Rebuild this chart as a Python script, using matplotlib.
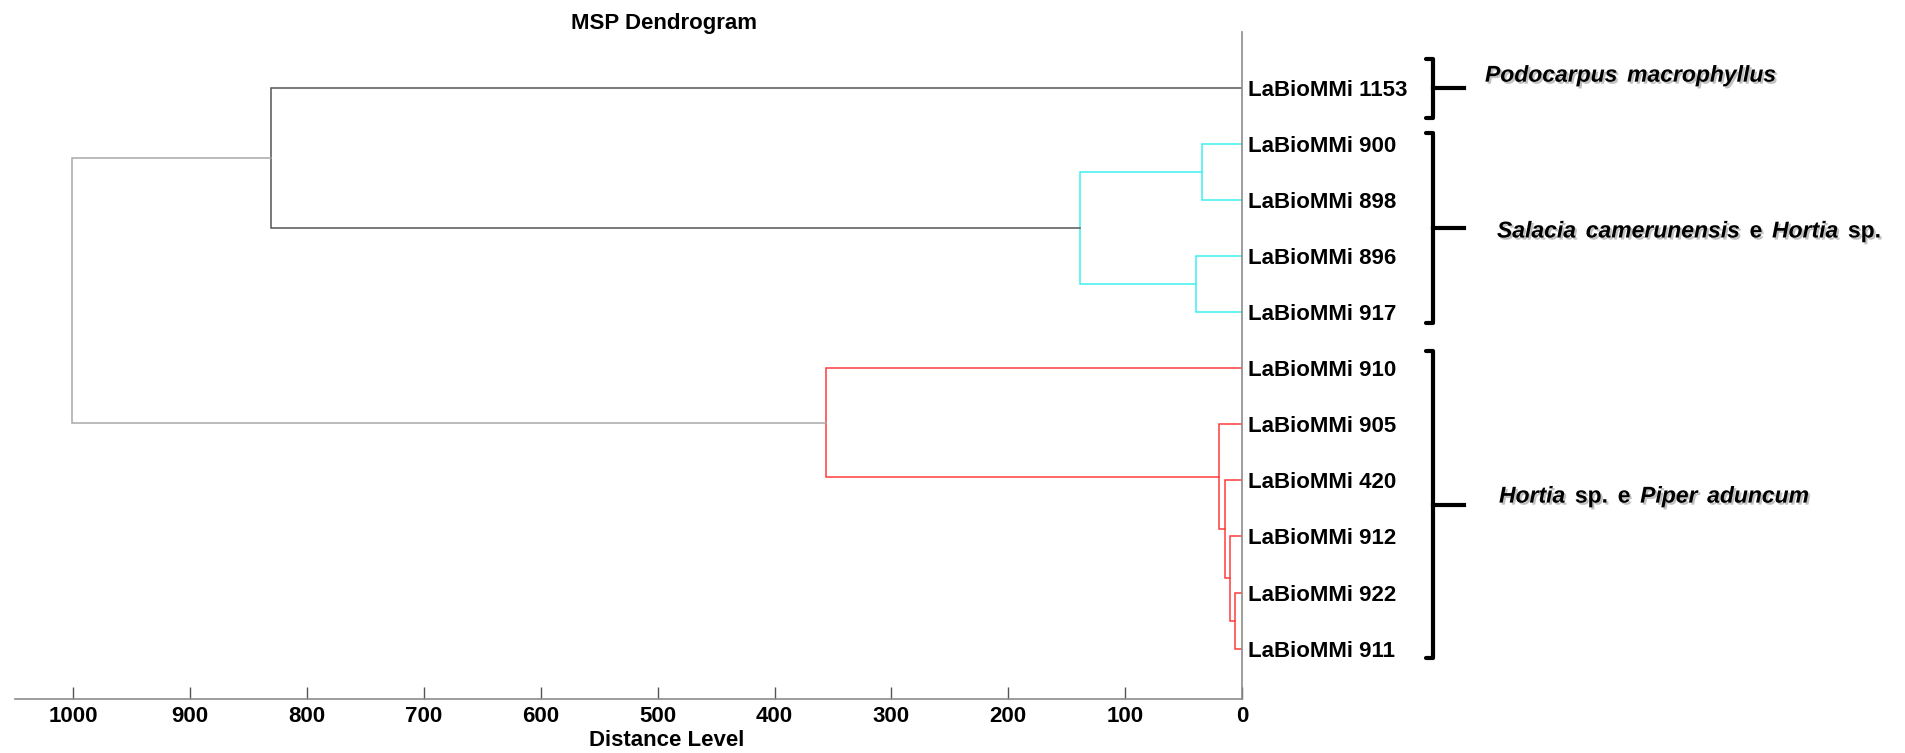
import matplotlib
matplotlib.use('Agg')
import matplotlib.pyplot as plt
import matplotlib.transforms as mtransforms
import matplotlib.patheffects as pe

plt.rcParams['font.family'] = ['Liberation Sans', 'DejaVu Sans']
plt.rcParams['font.weight'] = 'bold'

# 叶子顺序 (从上到下)
leaf_labels = ['LaBioMMi 1153', 'LaBioMMi 900', 'LaBioMMi 898', 'LaBioMMi 896',
               'LaBioMMi 917', 'LaBioMMi 910', 'LaBioMMi 905', 'LaBioMMi 420',
               'LaBioMMi 912', 'LaBioMMi 922', 'LaBioMMi 911']

# 合并: 0-10 为叶子, 11 起为新簇
merge_left = [1, 3, 11, 0, 9, 8, 7, 6, 5, 14]
merge_right = [2, 4, 12, 13, 10, 15, 16, 17, 18, 19]
merge_height = [34.0, 39.1, 138.4, 830.7, 5.7, 10.6, 14.3, 19.4, 355.6, 1000.9]
merge_group = ['B', 'B', 'B', 'A', 'C', 'C', 'C', 'C', 'C', 'root']

# 分组括号 (y 以叶子位置为单位)
bracket_top = [0.48, 1.80, 5.69]
bracket_bottom = [1.53, 5.19, 11.17]
group_label_y = [0.77, 3.55, 8.28]
group_words = [
    [('Podocarpus', True), ('macrophyllus', True)],
    [('Salacia', True), ('camerunensis', True), ('e', False), ('Hortia', True), ('sp.', False)],
    [('Hortia', True), ('sp.', False), ('e', False), ('Piper', True), ('aduncum', True)],
]

group_colors = {'A': '#555555', 'B': '#3ff0f0', 'C': '#ff3c3c', 'root': '#a8a8a8'}

W, H = 1905, 753
fig = plt.figure(figsize=(W / 100, H / 100), dpi=100)
ax = fig.add_axes([15 / W, 54 / H, (1242 - 15) / W, 667 / H])

# 计算节点位置
node_y = [i + 1 for i in range(len(leaf_labels))]
node_h = [0.0] * len(leaf_labels)
for l, r, h, g in zip(merge_left, merge_right, merge_height, merge_group):
    yl, yr = node_y[l], node_y[r]
    c = group_colors[g]
    ax.plot([node_h[l], h, h, node_h[r]], [yl, yl, yr, yr], color=c, lw=1.1,
            solid_joinstyle='miter')
    node_y.append((yl + yr) / 2)
    node_h.append(h)

ax.set_xlim(1050, 0)
ax.set_ylim(11.9, 0)
ax.set_xticks(range(0, 1001, 100))
ax.tick_params(axis='x', direction='in', length=9, width=1, color='#555555',
               labelsize=16, pad=5)
ax.yaxis.tick_right()
ax.set_yticks(range(1, len(leaf_labels) + 1))
ax.set_yticklabels(leaf_labels)
ax.tick_params(axis='y', length=0, labelsize=16, pad=4)
for s in ['top', 'left']:
    ax.spines[s].set_visible(False)
for s in ['bottom', 'right']:
    ax.spines[s].set_color('#8c8c8c')
    ax.spines[s].set_linewidth(1.2)

fig.text(664 / W, 1 - 23 / H, 'MSP Dendrogram', ha='center', va='center', fontsize=16)
fig.text(667 / W, 1 - 741 / H, 'Distance Level', ha='center', va='center', fontsize=16)

# 括号和分组名称
trans = mtransforms.blended_transform_factory(fig.transFigure, ax.transData)
x_hook, x_v, x_tick = 1426 / W, 1433 / W, 1464 / W
label_x = [1485 / W, 1497 / W, 1499 / W]
shadow = [pe.withSimplePatchShadow(offset=(1.5, -1.5), shadow_rgbFace='#999999', alpha=0.6)]
for top, bot, ly, words, lx in zip(bracket_top, bracket_bottom, group_label_y,
                                   group_words, label_x):
    ax.plot([x_hook, x_v, x_v, x_hook], [top, top, bot, bot], color='black', lw=3,
             transform=trans, clip_on=False, solid_joinstyle='round',
             solid_capstyle='round')
    mid = (top + bot) / 2
    ax.plot([x_v, x_tick], [mid, mid], color='black', lw=3, transform=trans,
            clip_on=False)
    prev = None
    for word, ital in words:
        style = 'italic' if ital else 'normal'
        if prev is None:
            prev = ax.text(lx, ly, word, transform=trans, fontsize=16.5, style=style,
                           va='center', ha='left', path_effects=shadow)
        else:
            prev = ax.annotate(word, xy=(1, 0), xycoords=prev, xytext=(7, 0),
                               textcoords='offset points', va='bottom', ha='left',
                               fontsize=16.5, style=style, path_effects=shadow)

fig.savefig('out.png', dpi=100)
